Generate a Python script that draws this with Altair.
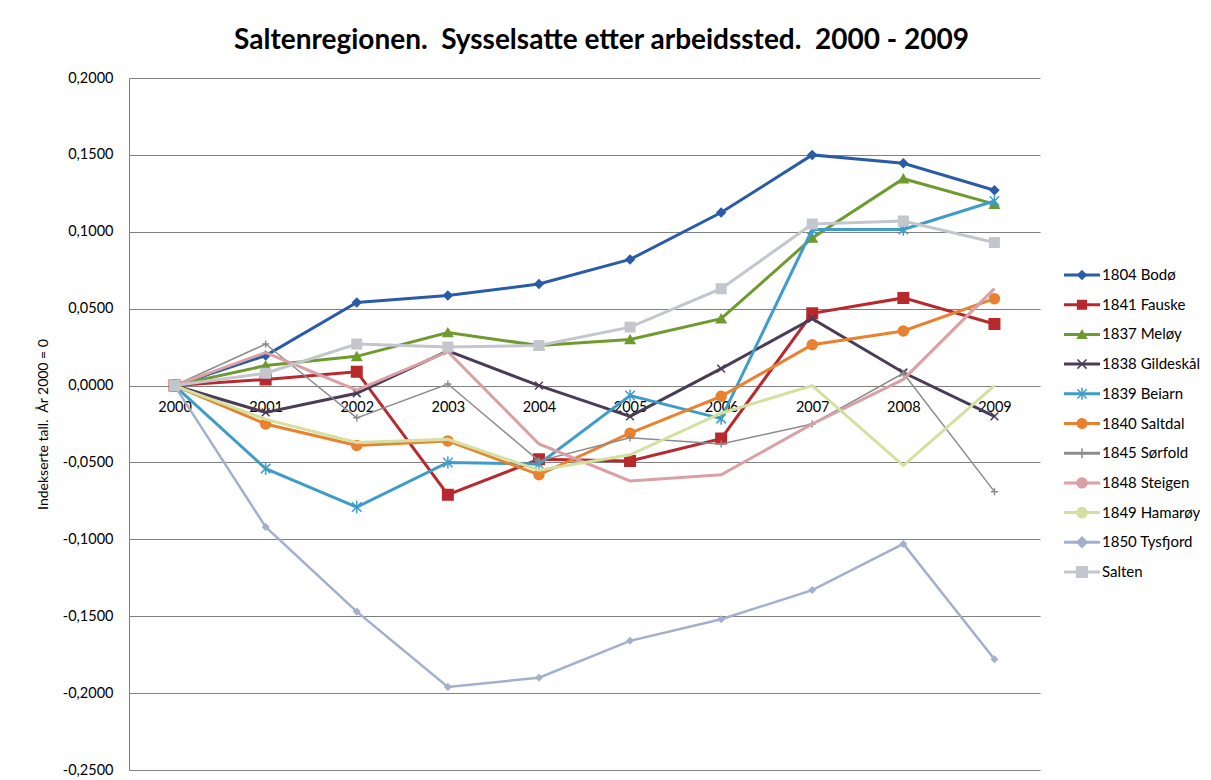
import altair as alt
import pandas as pd

years = ["2000", "2001", "2002", "2003", "2004", "2005", "2006", "2007", "2008", "2009"]

series = ["1804 Bodø", "1841 Fauske", "1837 Meløy", "1838 Gildeskål", "1839 Beiarn",
          "1840 Saltdal", "1845 Sørfold", "1848 Steigen", "1849 Hamarøy", "1850 Tysfjord", "Salten"]

bodo      = [0, 0.0195, 0.054, 0.0585, 0.066, 0.082, 0.1125, 0.150, 0.1445, 0.127]
fauske    = [0, 0.004, 0.009, -0.071, -0.048, -0.049, -0.0345, 0.047, 0.057, 0.040]
meloy     = [0, 0.013, 0.019, 0.0345, 0.026, 0.030, 0.0435, 0.096, 0.1345, 0.118]
gildeskal = [0, -0.0175, -0.005, 0.0225, 0.000, -0.020, 0.011, 0.0435, 0.0085, -0.020]
beiarn    = [0, -0.054, -0.079, -0.050, -0.051, -0.0065, -0.0215, 0.1015, 0.1015, 0.120]
saltdal   = [0, -0.025, -0.039, -0.036, -0.058, -0.031, -0.007, 0.0265, 0.0355, 0.0565]
sorfold   = [0, 0.027, -0.021, 0.001, -0.049, -0.034, -0.038, -0.025, 0.008, -0.069]
steigen   = [0, 0.0215, -0.003, 0.022, -0.038, -0.062, -0.058, -0.025, 0.004, 0.063]
hamaroy   = [0, -0.022, -0.037, -0.035, -0.055, -0.045, -0.018, 0.000, -0.052, 0.000]
tysfjord  = [0, -0.092, -0.147, -0.196, -0.190, -0.166, -0.152, -0.133, -0.103, -0.178]
salten    = [0, 0.008, 0.027, 0.025, 0.026, 0.038, 0.063, 0.105, 0.107, 0.093]

values = [bodo, fauske, meloy, gildeskal, beiarn, saltdal, sorfold, steigen, hamaroy, tysfjord, salten]

colors = ["#2A5BA8", "#B8282C", "#6F9A2E", "#4A3B57", "#3E9CC8", "#E9812F",
          "#8C8C8C", "#D9A0A6", "#D3E1A0", "#A3AFCD", "#C4C6CE"]
widths = [3, 3, 3, 3, 3, 3, 1.5, 3, 3, 2.5, 3]
X_PATH = "M-1,-1L1,1M-1,1L1,-1"
AST_PATH = "M-1,-1L1,1M-1,1L1,-1M0,-1.3L0,1.3"
PLUS_PATH = "M-1,0L1,0M0,-1L0,1"
shapes = ["diamond", "square", "triangle-up", X_PATH, AST_PATH, "circle",
          PLUS_PATH, "circle", "circle", "diamond", "square"]
sizes = [70, 110, 90, 60, 90, 100, 50, 0, 0, 35, 90]

rows = []
for s, vals in zip(series, values):
    for y, v in zip(years, vals):
        rows.append({"year": y, "series": s, "value": v})
df = pd.DataFrame(rows)
legend_df = pd.DataFrame({"series": series})

FONT = "Lato"
W, H = 911, 692

x_enc = alt.X("year:O", sort=years,
              scale=alt.Scale(type="point", padding=0.5),
              axis=alt.Axis(title=None, labelAngle=0, domain=False, ticks=False, grid=False,
                            offset=-385, labelPadding=15, labelFontSize=14.5,
                            labelColor="#000000", labelFont=FONT))
y_enc = alt.Y("value:Q",
              scale=alt.Scale(domain=[-0.25, 0.2], nice=False, zero=False),
              axis=alt.Axis(title="Indekserte tall.\u00a0 År 2000 = 0",
                            values=[-0.25, -0.2, -0.15, -0.1, -0.05, 0, 0.05, 0.1, 0.15, 0.2],
                            labelExpr="replace(replace(format(datum.value, '.4f'), '.', ','), '\u2212', '-')",
                            grid=True, gridColor="#808080", gridWidth=1,
                            domain=True, domainColor="#808080", ticks=False,
                            labelPadding=16, labelFontSize=14.5, labelColor="#000000", labelFont=FONT,
                            titleFontSize=14, titleFontWeight="normal", titleColor="#000000",
                            titleFont=FONT, titlePadding=12))

layers = []
for i, s in enumerate(series):
    base = alt.Chart(df).transform_filter(alt.datum.series == s)
    line = base.mark_line(color=colors[i], strokeWidth=widths[i]).encode(x=x_enc, y=y_enc)
    layers.append(line)
    if sizes[i] > 0:
        pt = base.mark_point(shape=shapes[i], size=sizes[i], fill=colors[i], stroke=colors[i],
                             strokeWidth=1.5, opacity=1, filled=True).encode(x=x_enc, y=y_enc)
        layers.append(pt)

main = alt.layer(*layers)

ly = alt.Y("series:N", sort=series,
           scale=alt.Scale(type="point", domain=series, range=[197, 494], padding=0),
           axis=None)
col = alt.Color("series:N", scale=alt.Scale(domain=series, range=colors), legend=None)
leg_rule = alt.Chart(legend_df).mark_rule().encode(
    x=alt.value(935), x2=alt.value(971), y=ly, color=col,
    strokeWidth=alt.StrokeWidth("series:N", scale=alt.Scale(domain=series, range=widths), legend=None))
leg_pt = alt.Chart(legend_df).mark_point(filled=True, opacity=1, strokeWidth=1.5).encode(
    x=alt.value(953), y=ly, color=col,
    stroke=alt.Stroke("series:N", scale=alt.Scale(domain=series, range=colors), legend=None),
    shape=alt.Shape("series:N", scale=alt.Scale(domain=series, range=shapes), legend=None),
    size=alt.Size("series:N", scale=alt.Scale(domain=series, range=sizes), legend=None))
leg_txt = alt.Chart(legend_df).mark_text(align="left", baseline="middle", fontSize=15,
                                          font=FONT, color="#000000").encode(
    x=alt.value(973), y=ly, text="series:N")
legend = alt.layer(leg_rule, leg_pt, leg_txt)

chart = alt.layer(main, legend).resolve_scale(
    y="independent", color="independent", stroke="independent"
).properties(
    width=W, height=H,
    title=alt.TitleParams("Saltenregionen.\u00a0 Sysselsatte etter arbeidssted.\u00a0 2000 - 2009",
                          fontSize=28, fontWeight="bold", font=FONT, color="#000000",
                          anchor="middle", frame="group", dx=17, offset=15),
    padding={"left": 121, "top": 70, "right": 160, "bottom": 10},
    autosize=alt.AutoSizeParams(type="none"),
    background="#FFFFFF",
).configure_view(stroke=None)

chart.save("out.html", embed_options={"renderer": "svg", "actions": False})
